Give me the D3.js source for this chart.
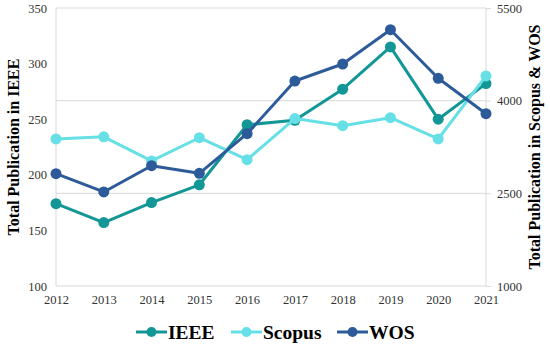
<!DOCTYPE html>
<html><head><meta charset="utf-8">
<script src="https://cdn.jsdelivr.net/npm/d3@7"></script>
<style>html,body{margin:0;padding:0;background:#fff}svg{display:block}</style>
</head><body>
<svg id="chart" width="550" height="347"></svg>
<script>
const years = [2012,2013,2014,2015,2016,2017,2018,2019,2020,2021];
const ieee = [174,157,175,191,245,249,277,315,250,282];
const scopus = [3380,3415,3025,3400,3045,3710,3595,3725,3380,4400];
const wos = [2818,2522,2947,2824,3465,4318,4593,5149,4362,3789];
const leftTicks = [100,150,200,250,300,350];
const rightTicks = [1000,2500,4000,5500];
const seriesNames = ["IEEE","Scopus","WOS"];
const colors = {IEEE:"#129696", Scopus:"#66E0E6", WOS:"#2D5B99"};

const FONT = '"Liberation Serif"';
const svg = d3.select("#chart");
const m = {l:56, r:64, t:8, b:61};
const W = 550, H = 347;
const x = d3.scalePoint().domain(years).range([m.l, W-m.r]);
const yL = d3.scaleLinear().domain([100,350]).range([H-m.b, m.t]);
const yR = d3.scaleLinear().domain([1000,5500]).range([H-m.b, m.t]);
const fmt = d3.format("d");

// gridlines (at right axis ticks)
svg.append("g").selectAll("line").data(rightTicks).join("line")
  .attr("x1", m.l).attr("x2", W-m.r)
  .attr("y1", d=>yR(d)).attr("y2", d=>yR(d))
  .attr("stroke", "#d9d9d9").attr("stroke-width", 1);

// axes lines
svg.append("line").attr("x1",m.l).attr("x2",m.l).attr("y1",m.t).attr("y2",H-m.b).attr("stroke","#d9d9d9");
svg.append("line").attr("x1",W-m.r).attr("x2",W-m.r).attr("y1",m.t).attr("y2",H-m.b).attr("stroke","#d9d9d9");

const gL = svg.append("g").attr("transform",`translate(${m.l},0)`)
  .call(d3.axisLeft(yL).tickValues(leftTicks).tickFormat(fmt).tickSize(0).tickPadding(9));
const gR = svg.append("g").attr("transform",`translate(${W-m.r},0)`)
  .call(d3.axisRight(yR).tickValues(rightTicks).tickFormat(fmt).tickSize(5).tickPadding(6));
const gX = svg.append("g").attr("transform",`translate(0,${H-m.b})`)
  .call(d3.axisBottom(x).tickFormat(fmt).tickSize(0).tickPadding(9));
[gL,gR,gX].forEach(g=>{
  g.attr("font-family", null);
  g.select(".domain").remove();
  g.selectAll("text").style("font-family",FONT).attr("font-size",12.5).attr("fill","#333");
});
gR.selectAll("line").attr("stroke","#d9d9d9");

// titles
svg.append("text").attr("transform",`translate(19,${(m.t+H-m.b)/2}) rotate(-90)`)
  .attr("text-anchor","middle").attr("font-weight","bold").style("font-family",FONT)
  .attr("font-size",16).text("Total Publication in IEEE");
svg.append("text").attr("transform",`translate(540,${(m.t+H-m.b)/2}) rotate(-90)`)
  .attr("text-anchor","middle").attr("font-weight","bold").style("font-family",FONT)
  .attr("font-size",16).text("Total Publication in Scopus & WOS");

const series = [
  {name:"IEEE", vals:ieee, y:yL},
  {name:"Scopus", vals:scopus, y:yR},
  {name:"WOS", vals:wos, y:yR}
];
series.forEach(s=>{
  const line = d3.line().x((d,i)=>x(years[i])).y(d=>s.y(d));
  const g = svg.append("g");
  g.append("path").attr("d", line(s.vals)).attr("fill","none")
    .attr("stroke", colors[s.name]).attr("stroke-width",3).attr("stroke-linejoin","round");
  g.selectAll("circle").data(s.vals).join("circle")
    .attr("cx",(d,i)=>x(years[i])).attr("cy",d=>s.y(d)).attr("r",5.5)
    .attr("fill", colors[s.name]);
});

// legend
const legX = [136, 231, 337];
const legY = 332;
const lg = svg.append("g");
seriesNames.forEach((n,i)=>{
  const g = lg.append("g").attr("transform",`translate(${legX[i]},${legY})`);
  g.append("line").attr("x1",0).attr("x2",31).attr("stroke",colors[n]).attr("stroke-width",3);
  g.append("circle").attr("cx",15.5).attr("r",5).attr("fill",colors[n]);
  g.append("text").attr("x",32).attr("y",6.5).attr("font-weight","bold").style("font-family",FONT)
    .attr("font-size",19.5).text(n);
});
</script>
</body></html>
